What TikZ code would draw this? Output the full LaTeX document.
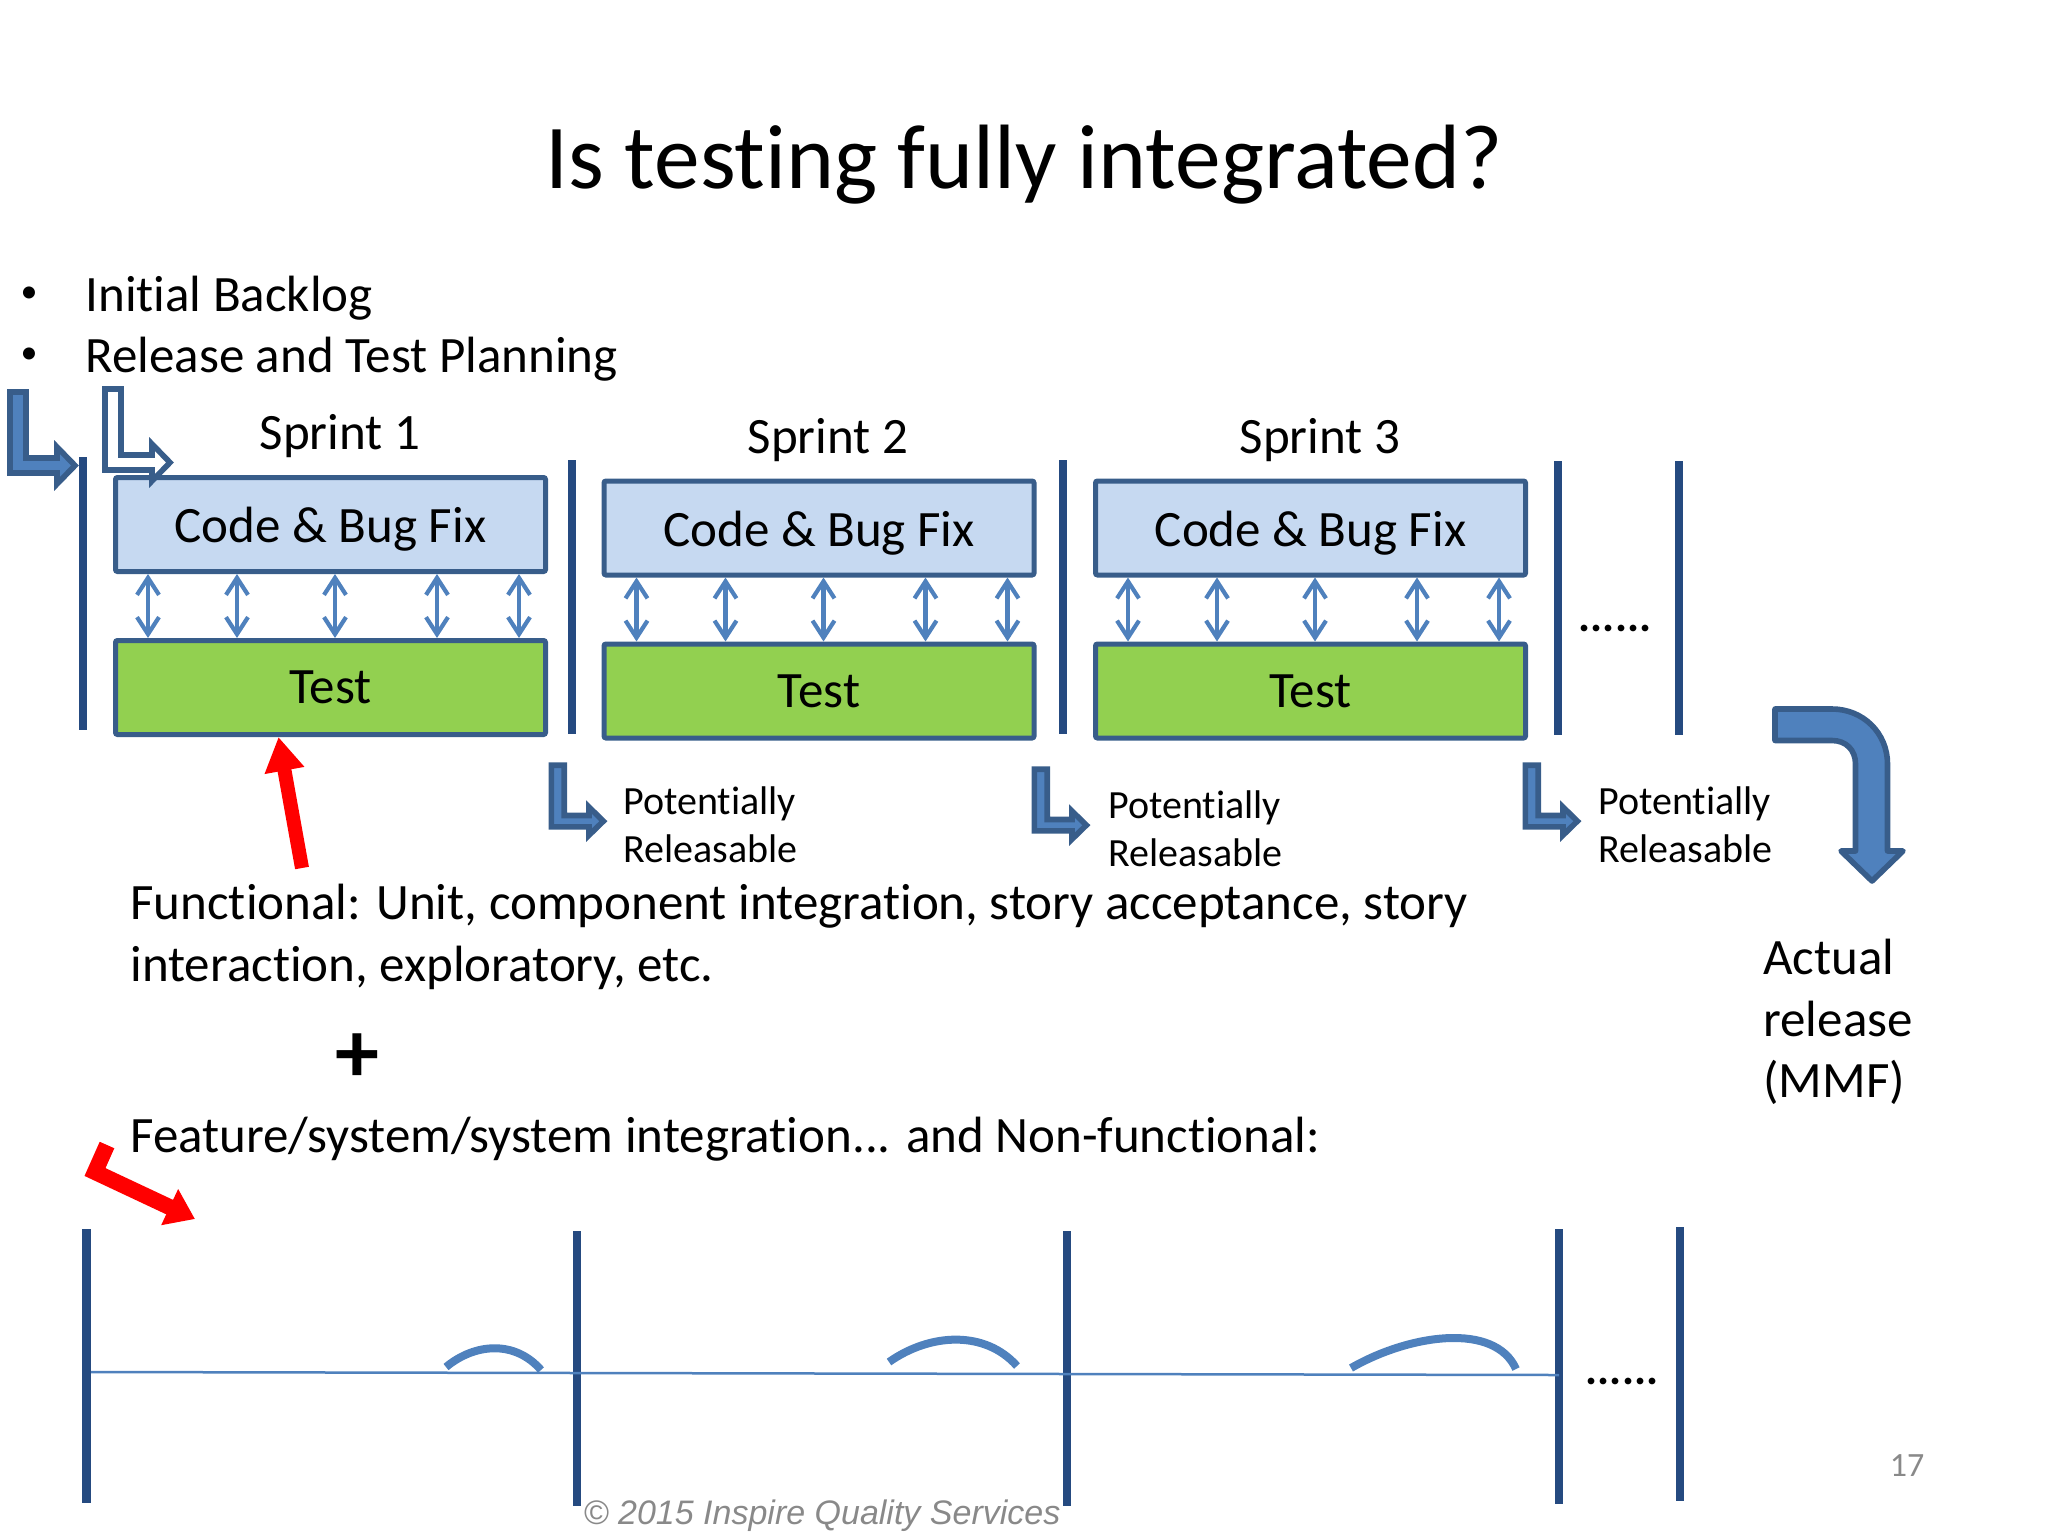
\documentclass[tikz,border=0pt]{standalone}
\usepackage{fontspec}
\setmainfont[Ligatures=NoCommon]{Carlito}
\newfontfamily\footfont{Liberation Sans}
\usetikzlibrary{arrows.meta}
\usetikzlibrary{positioning}
\definecolor{barblue}{HTML}{254A80}
\definecolor{edgeblue}{HTML}{385D8A}
\definecolor{fillblue}{HTML}{4F81BD}
\definecolor{codeblue}{HTML}{C6D9F1}
\definecolor{testgreen}{HTML}{92D050}
\definecolor{slidegray}{HTML}{898989}
\tikzset{codebox/.style={rectangle,draw=edgeblue,fill=codeblue,line width=2.5pt,rounded corners=1pt,
minimum width=215pt,minimum height=47pt,inner sep=0pt,text height=18pt,text depth=0pt,font=\fontsize{25.5}{25.5}\selectfont},
testbox/.style={codebox,fill=testgreen,text height=16pt},
body/.style={inner sep=0pt,align=left,anchor=west,font=\fontsize{25.5}{30.7}\selectfont},
small/.style={body,font=\fontsize{20}{24.2}\selectfont},
sprint/.style={inner sep=0pt,font=\fontsize{25.5}{25.5}\selectfont},
dotrow/.style={inner sep=0pt,font=\bfseries\fontsize{22.5}{22.5}\selectfont},
bar/.style={draw=barblue,line width=4.2pt},
updown/.style={draw=fillblue,line width=2.1pt,{Straight Barb[length=8.5pt,width=11pt]}-{Straight Barb[length=8.5pt,width=11pt]}},
bentarrow/.style={draw=edgeblue,fill=fillblue,line width=2.8pt},
redarrow/.style={draw=red,line width=7pt,-{Triangle[length=17pt,width=19pt]}},
hump/.style={draw=fillblue,line width=4pt}}
\newcommand{\bentshape}{(3,3) -- (19,3) -- (19,69) -- (50,69) -- (50,58) -- (68,76.5) -- (50,95) -- (50,84) -- (3,84) -- cycle}
\begin{document}
\begin{tikzpicture}[x=0.5pt,y=-0.5pt]
  \useasboundingbox (0,0) rectangle (2048,1536);

  \node (title) [inner sep=0pt,font=\fontsize{45.7}{45.7}\selectfont] at (1024,165) {Is testing fully integrated?};
  \node (bullet1) [inner sep=0pt,font=\fontsize{17}{17}\selectfont] at (29,295) {•};
  \node (bullet2) [inner sep=0pt,font=\fontsize{17}{17}\selectfont] at (29,356) {•};
  \node (backlog) [body] at (85,298) {Initial Backlog};
  \node (planning) [body] at (85,359) {Release and Test Planning};

  \node (code1) [codebox] at (330.5,524.5) {Code \& Bug Fix};
  \node (test1) [testbox,below=32pt of code1] {Test};
  \node (code2) [codebox] at (819,528) {Code \& Bug Fix};
  \node (test2) [testbox,below=32pt of code2] {Test};
  \node (code3) [codebox] at (1310.5,528) {Code \& Bug Fix};
  \node (test3) [testbox,below=32pt of code3] {Test};
  \node (sprint1) [sprint] at (340,436) {Sprint 1};
  \node (sprint2) [sprint] at (828,440) {Sprint 2};
  \node (sprint3) [sprint] at (1320,440) {Sprint 3};

  \draw [updown] ([xshift=17.5pt]code1.south west) -- ([xshift=17.5pt]test1.north west);
  \draw [updown] ([xshift=62pt]code1.south west) -- ([xshift=62pt]test1.north west);
  \draw [updown] ([xshift=111pt]code1.south west) -- ([xshift=111pt]test1.north west);
  \draw [updown] ([xshift=162pt]code1.south west) -- ([xshift=162pt]test1.north west);
  \draw [updown] ([xshift=203pt]code1.south west) -- ([xshift=203pt]test1.north west);
  \draw [updown] ([xshift=17.5pt]code2.south west) -- ([xshift=17.5pt]test2.north west);
  \draw [updown] ([xshift=62pt]code2.south west) -- ([xshift=62pt]test2.north west);
  \draw [updown] ([xshift=111pt]code2.south west) -- ([xshift=111pt]test2.north west);
  \draw [updown] ([xshift=162pt]code2.south west) -- ([xshift=162pt]test2.north west);
  \draw [updown] ([xshift=203pt]code2.south west) -- ([xshift=203pt]test2.north west);
  \draw [updown] ([xshift=17.5pt]code3.south west) -- ([xshift=17.5pt]test3.north west);
  \draw [updown] ([xshift=62pt]code3.south west) -- ([xshift=62pt]test3.north west);
  \draw [updown] ([xshift=111pt]code3.south west) -- ([xshift=111pt]test3.north west);
  \draw [updown] ([xshift=162pt]code3.south west) -- ([xshift=162pt]test3.north west);
  \draw [updown] ([xshift=203pt]code3.south west) -- ([xshift=203pt]test3.north west);

  \draw [bar] (83,457) -- (83,730);
  \draw [bar] (572,460) -- (572,734);
  \draw [bar] (1063,460) -- (1063,734);
  \draw [bar] (1558,461) -- (1558,735);
  \draw [bar] (1679,461) -- (1679,735);
  \node (dots1) [dotrow] at (1615,628) {......};

  \draw [bentarrow,shift={(7,389)}] \bentshape;
  \draw [bentarrow,shift={(102,386)},fill=white] \bentshape;
  \draw [bentarrow,shift={(549,763)},xscale=.8,yscale=.76] \bentshape;
  \draw [bentarrow,shift={(1032,767)},xscale=.8,yscale=.76] \bentshape;
  \draw [bentarrow,shift={(1523,763)},xscale=.8,yscale=.76] \bentshape;
  \draw [bentarrow,line join=round] (1775,709) -- (1832,709) .. controls (1863,709) and (1887.5,733) .. (1887.5,764)
    -- (1887.5,851) -- (1903,851) -- (1872,881) -- (1841,851) -- (1855.5,851) -- (1855.5,764)
    .. controls (1855.5,750) and (1846,740.5) .. (1832,740.5) -- (1775,740.5) -- cycle;

  \node (rel1) [small] at (623,825) {Potentially\\Releasable};
  \node (rel2) [small] at (1108,829) {Potentially\\Releasable};
  \node (rel3) [small] at (1598,825) {Potentially\\Releasable};

  \coordinate (redtail) at (302,868);
  \draw [redarrow] (redtail) -- ([xshift=-26pt]test1.south);

  \node (functional) [body] at (130,937) {Functional: Unit, component integration, story acceptance, story\\interaction, exploratory, etc.};
  \node (plus) [inner sep=0pt,font=\bfseries\fontsize{44}{44}\selectfont] at (357,1058) {+};
  \node (feature) [body] at (130,1139) {Feature/system/system integration... and Non-functional:};
  \node (actual) [body] at (1763,1022) {Actual\\release\\(MMF)};

  \coordinate (bendtop) at (107,1145);
  \coordinate (bendknee) at (95,1172);
  \coordinate (bendend) at (195,1219);
  \draw [redarrow,line width=8pt,miter limit=4,-{Triangle[length=14pt,width=19pt]}] (bendtop) -- (bendknee) -- (bendend);

  \draw [bar] (86.5,1229) -- (86.5,1503);
  \draw [bar] (577,1231) -- (577,1506);
  \draw [bar] (1067,1231) -- (1067,1506);
  \draw [bar] (1559,1229) -- (1559,1504);
  \draw [bar] (1680,1227) -- (1680,1501);
  \coordinate (linestart) at (91,1372);
  \coordinate (lineend) at (1559,1375);
  \draw [fillblue,line width=1.25pt] (linestart) -- (lineend);
  \draw [hump] (446,1367) .. controls (475,1343) and (515,1340) .. (541,1370);
  \draw [hump] (889,1362) .. controls (930,1333) and (985,1330) .. (1017,1366);
  \draw [hump] (1351,1368) .. controls (1410,1334) and (1495,1322) .. (1516,1369);
  \node (dots2) [dotrow] at (1622,1381) {......};

  \node (copyright) [inner sep=0pt,text=slidegray,font=\footfont\itshape\fontsize{17}{17}\selectfont] at (822,1516) {© 2015 Inspire Quality Services};
  \node (pageno) [inner sep=0pt,text=slidegray,font=\fontsize{17}{17}\selectfont] at (1907,1466) {17};
\end{tikzpicture}
\end{document}
